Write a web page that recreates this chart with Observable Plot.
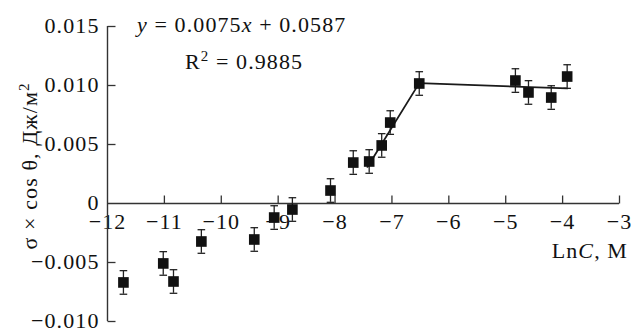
<!DOCTYPE html>
<html><head><meta charset="utf-8">
<script src="https://cdn.jsdelivr.net/npm/d3@7"></script>
<script src="https://cdn.jsdelivr.net/npm/@observablehq/plot@0.6"></script>
<style>
body{margin:0;background:#fff}
#chart svg text{font-family:"Liberation Serif","Times New Roman",serif !important;letter-spacing:1.1px}
</style>
</head><body><div id="chart"></div>
<script>
// Data
const lnC = [-11.72, -11.02, -10.84, -10.35, -9.42, -9.07, -8.75, -8.08, -7.68, -7.40, -7.18, -7.03, -6.52, -4.83, -4.60, -4.20, -3.92];
const sigmaCos = [-0.00669, -0.00508, -0.00661, -0.00322, -0.00305, -0.00119, -0.00051, 0.00110, 0.00347, 0.00356, 0.00492, 0.00686, 0.01017, 0.01042, 0.00941, 0.00898, 0.01076];
const errors = [0.001, 0.001, 0.001, 0.001, 0.001, 0.001, 0.001, 0.001, 0.001, 0.001, 0.001, 0.001, 0.001, 0.001, 0.001, 0.001, 0.001];
const fitX = [-7.43, -6.52, -3.92];
const fitY = [0.0031, 0.0102, 0.00975];
const xDomain = [-12, -3];
const yDomain = [-0.010, 0.015];
const xTicks = [-12, -11, -10, -9, -8, -7, -6, -5, -4, -3];
const xTickLabels = ["−12", "−11", "−10", "−9", "−8", "−7", "−6", "−5", "−4", "−3"];
const yTicks = [0.015, 0.010, 0.005, 0, -0.005, -0.010];
const yTickLabels = ["0.015", "0.010", "0.005", "0", "−0.005", "−0.010"];

const points = lnC.map((x, i) => ({x, y: sigmaCos[i], e: errors[i]}));
const fit = fitX.map((x, i) => ({x, y: fitY[i]}));

const FS = 22;
const AX = "#333";

const cap = {draw(ctx) { ctx.moveTo(-3.8, 0); ctx.lineTo(3.8, 0); }};
const tickUp = {draw(ctx) { ctx.moveTo(0, 0); ctx.lineTo(0, -8); }};
const tickRight = {draw(ctx) { ctx.moveTo(0, 0); ctx.lineTo(8, 0); }};

const plot = Plot.plot({
  width: 635,
  height: 329,
  marginLeft: 107,
  marginRight: 16,
  marginTop: 26,
  marginBottom: 8,
  style: {background: "#fff", overflow: "visible"},
  x: {domain: xDomain, axis: null},
  y: {domain: yDomain, axis: null},
  marks: [
    Plot.text(xTicks, {x: d => d, y: 0, text: (d, i) => xTickLabels[i], dy: 18, fontSize: FS, fill: "#111"}),
    Plot.text(yTicks, {x: xDomain[0], y: d => d, text: (d, i) => yTickLabels[i], dx: -8, dy: -1, textAnchor: "end", fontSize: FS, fill: "#111"}),
    Plot.ruleX([xDomain[0]], {y1: yDomain[0], y2: yDomain[1], stroke: AX, strokeWidth: 1.4}),
    Plot.ruleY([0], {x1: xDomain[0], x2: xDomain[1], stroke: AX, strokeWidth: 1.4}),
    Plot.dot(xTicks.slice(1), {x: d => d, y: 0, symbol: tickUp, stroke: AX, strokeWidth: 1.3}),
    Plot.dot(yTicks.filter(d => d !== 0), {x: xDomain[0], y: d => d, symbol: tickRight, stroke: AX, strokeWidth: 1.3}),
    Plot.ruleX(points, {x: "x", y1: d => d.y - d.e, y2: d => d.y + d.e, stroke: "#222", strokeWidth: 1.3}),
    Plot.dot(points, {x: "x", y: d => d.y + d.e, symbol: cap, stroke: "#222", strokeWidth: 1.3}),
    Plot.dot(points, {x: "x", y: d => d.y - d.e, symbol: cap, stroke: "#222", strokeWidth: 1.3}),
    Plot.line(fit, {x: "x", y: "y", stroke: "#1a1a1a", strokeWidth: 1.8}),
    Plot.dot(points, {x: "x", y: "y", symbol: "square", r: 6, fill: "#111", stroke: "none"})
  ]
});
document.getElementById("chart").appendChild(plot);

// Annotations and axis titles with italic / superscript parts
const svg = d3.select(plot);
function addText(x, y, parts, opts = {}) {
  const t = svg.append("text")
    .attr("x", x).attr("y", y)
    .attr("font-size", FS).attr("fill", "#111")
    .attr("text-anchor", opts.anchor || "start");
  if (opts.transform) t.attr("transform", opts.transform).attr("x", 0).attr("y", 0);
  for (const p of parts) {
    const s = t.append("tspan").text(p.t);
    if (p.i) s.attr("font-style", "italic");
    if (p.sup) s.attr("baseline-shift", "super").attr("font-size", FS * 0.68);
  }
  return t;
}
addText(137, 32, [{t: "y", i: true}, {t: " = 0.0075"}, {t: "x", i: true}, {t: " + 0.0587"}]);
addText(185, 69, [{t: "R"}, {t: "2", sup: true}, {t: " = 0.9885"}]);
addText(628, 258, [{t: "Ln"}, {t: "C", i: true}, {t: ", M"}], {anchor: "end"});
addText(0, 0, [{t: "σ × cos θ, Дж/м"}, {t: "2", sup: true}], {anchor: "middle", transform: "translate(37,166) rotate(-90)"});
</script>
</body></html>
